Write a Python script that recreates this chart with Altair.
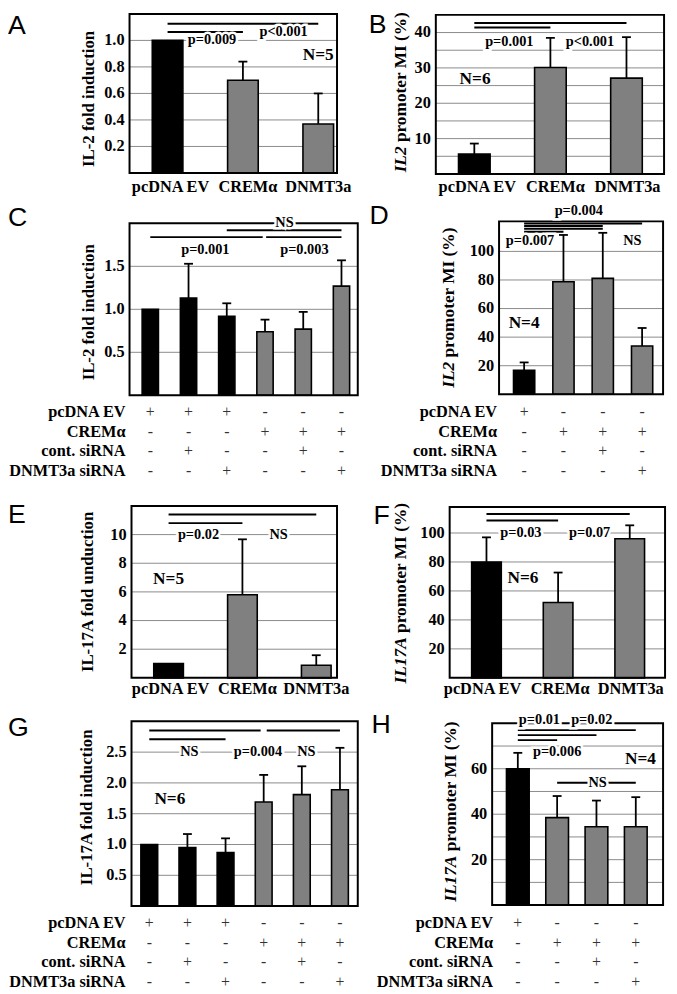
import altair as alt
import pandas as pd

# ---------------- data ----------------
cats3 = ["pcDNA EV", "CREMα", "DNMT3a"]
table_rows = ["pcDNA EV", "CREMα", "cont. siRNA", "DNMT3a siRNA"]

a_vals = [1.0, 0.70, 0.37]
a_err = [None, 0.84, 0.60]
b_vals = [5.6, 30.1, 27.1]
b_err = [8.6, 38.5, 38.7]
c_vals = [1.0, 1.13, 0.92, 0.74, 0.77, 1.27]
c_err = [None, 1.53, 1.07, 0.88, 0.97, 1.57]
d_vals = [16.8, 78.8, 81.1, 33.8]
d_err = [22.3, 111.5, 113.0, 46.4]
e_vals = [1.0, 5.8, 0.88]
e_err = [None, 9.67, 1.58]
f_vals = [80, 52, 96]
f_err = [97, 72.7, 105.3]
g_vals = [1.0, 0.95, 0.87, 1.69, 1.81, 1.89]
g_err = [None, 1.17, 1.10, 2.13, 2.27, 2.57]
h_vals = [60, 38.5, 34.5, 34.5]
h_err = [67, 48, 46, 47.5]

six_signs = [
    ["+", "+", "+", "-", "-", "-"],
    ["-", "-", "-", "+", "+", "+"],
    ["-", "+", "-", "-", "+", "-"],
    ["-", "-", "+", "-", "-", "+"],
]
four_signs = [
    ["+", "-", "-", "-"],
    ["-", "+", "+", "+"],
    ["-", "-", "+", "-"],
    ["-", "-", "-", "+"],
]

a_grid = [0.2, 0.4, 0.6, 0.8, 1.0]
a_ticks = [0.2, 0.4, 0.6, 0.8, 1.0]
b_grid = [5, 10, 15, 20, 25, 30, 35, 40]
b_ticks = [10, 20, 30, 40]
c_grid = [0.5, 1.0, 1.5]
c_ticks = [0.5, 1.0, 1.5]
d_grid = [20, 40, 60, 80, 100]
d_ticks = [20, 40, 60, 80, 100]
e_grid = [2, 4, 6, 8, 10]
e_ticks = [2, 4, 6, 8, 10]
f_grid = [20, 40, 60, 80, 100]
f_ticks = [20, 40, 60, 80, 100]
g_grid = [0.5, 1.0, 1.5, 2.0, 2.5]
g_ticks = [0.5, 1.0, 1.5, 2.0, 2.5]
h_grid = [10, 20, 30, 40, 50, 60, 70]
h_ticks = [20, 40, 60]

# significance brackets: (from bar, to bar, height)
a_br = [(0, 2, 1.126), (0, 1, 1.064)]
b_br = [(0, 2, 42.7), (0, 1, 41.4)]
c_br = [(2, 5, 1.92), (0, 2.94, 1.84), (3.03, 5, 1.84)]
d_br = [(0, 3, 119.5), (0, 2, 117.7), (0, 2, 115.9), (0, 1, 113.8)]
e_br = [(0, 2, 11.4), (0, 1, 10.8)]
f_br = [(0, 2, 113.1), (0, 1, 108.6)]
g_br = [(0, 2.92, 2.85), (3.08, 5, 2.85), (0, 2, 2.71)]
h_br = [(0, 3, 77), (0, 2, 74.8), (0, 1, 72.6), (1, 3, 53.8)]

# annotations: (text, x position in bar units, height)
a_notes = [("p=0.009", 0.59, 1.0), ("p<0.001", 1.54, 1.06), ("N=5", 2.0, 0.89)]
b_notes = [("p=0.001", 0.46, 37.4), ("p<0.001", 1.52, 37.4), ("N=6", 0.01, 26.8)]
c_notes = [("NS", 3.51, 2.0), ("p=0.001", 1.44, 1.69), ("p=0.003", 4.03, 1.69)]
d_notes = [("p=0.004", 1.39, 127.9), ("p=0.007", 0.15, 107.4), ("NS", 2.75, 107.4), ("N=4", 0.0, 49.9)]
e_notes = [("p=0.02", 0.405, 10.0), ("NS", 1.49, 10.0), ("N=5", 0.0, 6.9)]
f_notes = [("p=0.03", 0.48, 100.0), ("p=0.07", 1.44, 100.0), ("N=6", 0.51, 68.8)]
g_notes = [("NS", 1.05, 2.5), ("p=0.004", 2.85, 2.5), ("NS", 4.12, 2.5), ("N=6", 0.54, 1.74)]
h_notes = [("p=0.01", 0.55, 81.6), ("p=0.02", 1.88, 81.6), ("p=0.006", 1.0, 67.5),
           ("N=4", 3.12, 64.3), ("NS", 2.03, 53.8)]

# ---------------- layout / style ----------------
OX, OY = 8, 5
FONT = "Liberation Serif"
SANS = "Liberation Sans"
GRAY = "#808080"
GRID = "#8a8a8a"
EM_REST = 7.553  # "promoter MI (%)" width in em (bold serif)


def X(p):
    return p - OX


def Y(p):
    return p - OY


LA = dict(left=131, right=341, top=5, bottom=166, xdom=[-0.505, 2.249], ydom=[0, 1.2], barw=31,
          caty=180, catdx=[3, 5, 0], letter=("A", 2, 17),
          title=("", "IL-2 fold induction", 90, 91, 17, 0))
LB = dict(left=441, right=672, top=6, bottom=167, xdom=[-0.506, 2.494], ydom=[0, 45], barw=32,
          caty=180, catdx=[3, 5, 1], letter=("B", 373, 16),
          title=("IL2", "promoter MI (%)", 406, 84, 17.5, 1.5))
LC = dict(left=131, right=362, top=217, bottom=391, xdom=[-0.543, 5.426], ydom=[0, 2], barw=16.5,
          rows=[408, 428, 447.5, 468], rowx=127, letter=("C", 2, 212),
          title=("", "IL-2 fold induction", 90, 307, 17, 0))
LD = dict(left=505, right=671, top=215, bottom=390, xdom=[-0.6375, 3.533], ydom=[0, 121], barw=21.5,
          rows=[408, 428, 447.5, 468], rowx=503, letter=("D", 374, 210),
          title=("IL2", "promoter MI (%)", 454, 302, 17.5, 1.5))
LE = dict(left=133, right=341, top=503, bottom=677, xdom=[-0.502, 2.281], ydom=[0, 12], barw=30,
          caty=688, catdx=[2, 5, 0], letter=("E", 2, 512),
          title=("", "IL-17A fold unduction", 89, 590, 17, 0))
LF = dict(left=455, right=673, top=504, bottom=677, xdom=[-0.514, 2.493], ydom=[0, 118], barw=30,
          caty=688, catdx=[-4, 2, 1], letter=("F", 378, 513),
          title=("IL17A", "promoter MI (%)", 406, 591, 17.5, 2.667))
LG = dict(left=133, right=362, top=721, bottom=908, xdom=[-0.466, 5.467], ydom=[0, 3], barw=17,
          rows=[925, 945, 965, 985], rowx=127, letter=("G", 2, 728),
          title=("", "IL-17A fold induction", 88, 808, 17, 0))
LH = dict(left=498, right=671, top=723, bottom=907, xdom=[-0.653, 3.694], ydom=[0, 80], barw=23,
          rows=[925, 945, 965, 985], rowx=499, letter=("H", 376, 725),
          title=("IL17A", "promoter MI (%)", 456, 812, 17.5, 2.667))


def one():
    return pd.DataFrame({"k": [0]})


def make_panel(vals, errs, ev, grid, ticks, fmt, brackets, notes, L, cats=None, signs=None):
    lo, hi = L["xdom"]
    y0, y1 = L["ydom"]
    xs = alt.Scale(domain=[lo, hi], range=[X(L["left"]), X(L["right"])], nice=False, zero=False)
    ys = alt.Scale(domain=[y0, y1], range=[Y(L["bottom"]), Y(L["top"])], nice=False, zero=False)
    step = (L["right"] - L["left"]) / (hi - lo)
    hw = L["barw"] / 2 / step
    cw = 4.5 / step
    n = len(vals)
    layers = []

    # gridlines
    gdf = pd.DataFrame({"g": grid})
    layers.append(
        alt.Chart(gdf).transform_calculate(a=f"{lo}", b=f"{hi}")
        .mark_rule(color=GRID, strokeWidth=1)
        .encode(x=alt.X("a:Q", scale=xs, axis=None), x2="b:Q", y=alt.Y("g:Q", scale=ys, axis=None))
    )

    # bars
    bdf = pd.DataFrame({"i": list(range(n)), "v": vals, "e": errs, "ev": ev})
    base = alt.Chart(bdf).transform_calculate(
        x1=f"datum.i - {hw}", x2=f"datum.i + {hw}", c1=f"datum.i - {cw}", c2=f"datum.i + {cw}", z="0"
    )
    layers.append(
        base.mark_rect(stroke="black", strokeWidth=1.6)
        .encode(
            x=alt.X("x1:Q", scale=xs, axis=None), x2="x2:Q",
            y=alt.Y("v:Q", scale=ys, axis=None), y2="z:Q",
            fill=alt.condition("datum.ev", alt.value("black"), alt.value(GRAY)),
        )
    )
    err = base.transform_filter("isValid(datum.e) && isFinite(datum.e)")
    layers.append(
        err.mark_rule(color="black", strokeWidth=1.8)
        .encode(x=alt.X("i:Q", scale=xs, axis=None), y=alt.Y("v:Q", scale=ys, axis=None), y2="e:Q")
    )
    layers.append(
        err.mark_rule(color="black", strokeWidth=1.8)
        .encode(x=alt.X("c1:Q", scale=xs, axis=None), x2="c2:Q", y=alt.Y("e:Q", scale=ys, axis=None))
    )

    # brackets
    brdf = pd.DataFrame(brackets, columns=["bx1", "bx2", "by"])
    layers.append(
        alt.Chart(brdf).mark_rule(color="black", strokeWidth=2)
        .encode(x=alt.X("bx1:Q", scale=xs, axis=None), x2="bx2:Q", y=alt.Y("by:Q", scale=ys, axis=None))
    )

    # frame
    layers.append(
        alt.Chart(one()).transform_calculate(a=f"{lo}", b=f"{hi}", c=f"{y0}", d=f"{y1}")
        .mark_rect(fill="white", fillOpacity=0, stroke="black", strokeWidth=2)
        .encode(x=alt.X("a:Q", scale=xs, axis=None), x2="b:Q", y=alt.Y("c:Q", scale=ys, axis=None), y2="d:Q")
    )

    # annotations
    ndf = pd.DataFrame(notes, columns=["t", "nx", "ny"])
    ntext = alt.Chart(ndf).transform_calculate(
        s="indexof(datum.t, 'N=') == 0 ? 17.5 : 14.5",
        h="indexof(datum.t, 'N=') == 0 ? 0 : 1",
    )
    enc = dict(
        x=alt.X("nx:Q", scale=xs, axis=None), y=alt.Y("ny:Q", scale=ys, axis=None),
        text="t:N", size=alt.Size("s:Q", scale=None),
    )
    layers.append(
        ntext.transform_filter("datum.h == 1")
        .mark_text(font=FONT, fontWeight="bold", baseline="middle", fill="white", stroke="white", strokeWidth=5)
        .encode(**enc)
    )
    layers.append(
        ntext.mark_text(font=FONT, fontWeight="bold", baseline="middle", color="black").encode(**enc)
    )

    # y tick labels
    tdf = pd.DataFrame({"t": ticks})
    layers.append(
        alt.Chart(tdf).mark_text(font=FONT, fontWeight="bold", fontSize=16.5, align="right",
                                 baseline="middle", color="black")
        .encode(x=alt.value(X(L["left"]) - 5), y=alt.Y("t:Q", scale=ys, axis=None),
                text=alt.Text("t:Q", format=fmt))
    )

    # category labels or +/- table
    if cats is not None:
        pos = [i + d / step for i, d in enumerate(L["catdx"])]
        cdf = pd.DataFrame({"p": pos, "c": cats})
        layers.append(
            alt.Chart(cdf).mark_text(font=FONT, fontWeight="bold", fontSize=16.5, baseline="middle",
                                     color="black")
            .encode(x=alt.X("p:Q", scale=xs, axis=None), y=alt.value(Y(L["caty"])), text="c:N")
        )
    if signs is not None:
        for r, row in enumerate(signs):
            sdf = pd.DataFrame({"i": list(range(n)), "s": row})
            layers.append(
                alt.Chart(sdf).mark_text(font=FONT, fontSize=16, baseline="middle", color="#333333")
                .encode(x=alt.X("i:Q", scale=xs, axis=None), y=alt.value(Y(L["rows"][r])), text="s:N")
            )
            ldf = pd.DataFrame({"l": [table_rows[r]]})
            layers.append(
                alt.Chart(ldf).mark_text(font=FONT, fontWeight="bold", fontSize=16.5, align="right",
                                         baseline="middle", color="black")
                .encode(x=alt.value(X(L["rowx"])), y=alt.value(Y(L["rows"][r])), text="l:N")
            )

    # y title
    ital, rest, cx, cy, fs, em_i = L["title"]
    if ital == "":
        layers.append(
            alt.Chart(pd.DataFrame({"l": [rest]}))
            .mark_text(font=FONT, fontWeight="bold", fontSize=fs, angle=270, align="center",
                       baseline="middle", color="black")
            .encode(x=alt.value(X(cx)), y=alt.value(Y(cy)), text="l:N")
        )
    else:
        wi = em_i * fs
        wr = (0.25 + EM_REST) * fs
        bottom = cy + (wi + wr) / 2
        anchor = bottom - wi
        layers.append(
            alt.Chart(pd.DataFrame({"l": [ital]}))
            .mark_text(font=FONT, fontWeight="bold", fontStyle="italic", fontSize=fs, angle=270,
                       align="right", baseline="middle", color="black")
            .encode(x=alt.value(X(cx)), y=alt.value(Y(anchor)), text="l:N")
        )
        layers.append(
            alt.Chart(pd.DataFrame({"l": [rest]}))
            .mark_text(font=FONT, fontWeight="bold", fontSize=fs, angle=270,
                       align="left", baseline="middle", color="black")
            .encode(x=alt.value(X(cx)), y=alt.value(Y(anchor - 0.25 * fs)), text="l:N")
        )

    # panel letter
    let, lx, ly = L["letter"]
    layers.append(
        alt.Chart(pd.DataFrame({"l": [let]}))
        .mark_text(font=SANS, fontSize=27, align="left", baseline="middle", color="black")
        .encode(x=alt.value(max(0, X(lx))), y=alt.value(Y(ly)), text="l:N")
    )
    return alt.layer(*layers)


ev3 = [c == "pcDNA EV" for c in cats3]
ev6 = [s == "+" for s in six_signs[0]]
ev4 = [s == "+" for s in four_signs[0]]

panels = [
    make_panel(a_vals, a_err, ev3, a_grid, a_ticks, ".1f", a_br, a_notes, LA, cats=cats3),
    make_panel(b_vals, b_err, ev3, b_grid, b_ticks, "d", b_br, b_notes, LB, cats=cats3),
    make_panel(c_vals, c_err, ev6, c_grid, c_ticks, ".1f", c_br, c_notes, LC, signs=six_signs),
    make_panel(d_vals, d_err, ev4, d_grid, d_ticks, "d", d_br, d_notes, LD, signs=four_signs),
    make_panel(e_vals, e_err, ev3, e_grid, e_ticks, "d", e_br, e_notes, LE, cats=cats3),
    make_panel(f_vals, f_err, ev3, f_grid, f_ticks, "d", f_br, f_notes, LF, cats=cats3),
    make_panel(g_vals, g_err, ev6, g_grid, g_ticks, ".1f", g_br, g_notes, LG, signs=six_signs),
    make_panel(h_vals, h_err, ev4, h_grid, h_ticks, "d", h_br, h_notes, LH, signs=four_signs),
]

chart = (
    alt.layer(*panels)
    .resolve_scale(x="independent", y="independent")
    .properties(width=669, height=986, padding=0, autosize="none", background="white")
    .configure_view(strokeWidth=0)
)

chart.save("out.html", embed_options={"renderer": "svg", "actions": False})
